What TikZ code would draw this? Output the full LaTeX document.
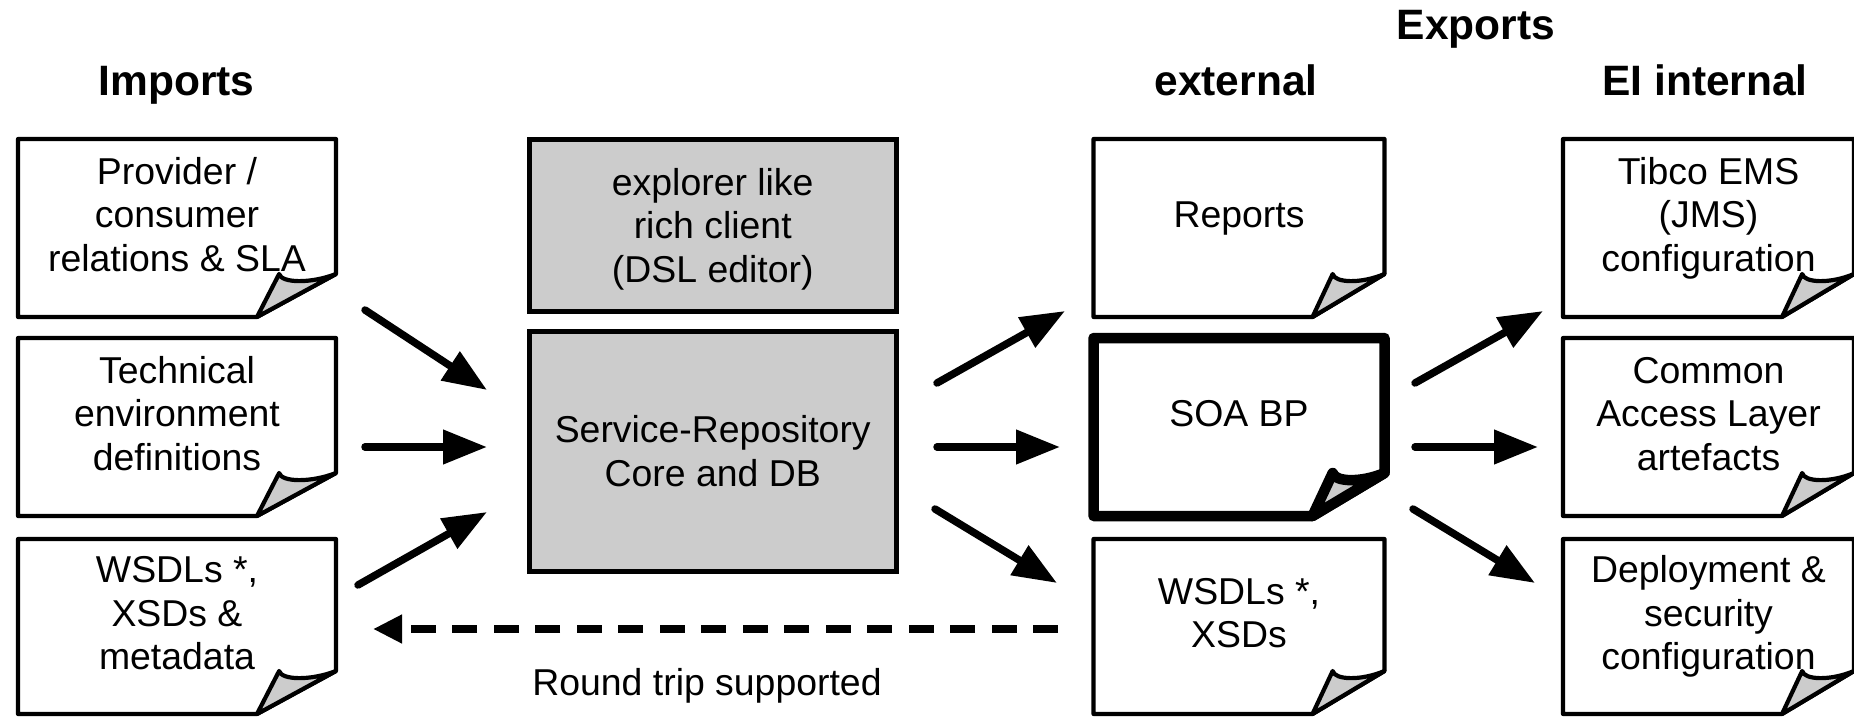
\documentclass[tikz,border=0pt]{standalone}
\usepackage{fontspec}
\setmainfont{Liberation Sans}
\usetikzlibrary{arrows.meta,calc}

\definecolor{panelgray}{gray}{0.8}
\definecolor{foldgray}{gray}{0.8}

% outline of a document page with a curled lower right corner
% #1 node name, #2 fold width, #3 line width
\newcommand{\docoutline}[3]{%
  \draw[line width=#3, line join=round]
    (#1.north west) -- (#1.north east) -- ([yshift=43pt]#1.south east)
    -- ([xshift=-#2]#1.south east) -- (#1.south west) -- cycle;
  \draw[line width=#3, line join=round, fill=foldgray]
    ([xshift=-#2]#1.south east)
    -- ([xshift={-0.72*#2}, yshift=43pt]#1.south east)
    .. controls ([xshift={-0.69*#2}, yshift=34pt]#1.south east)
            and ([xshift={-0.33*#2}, yshift=33pt]#1.south east)
    .. ([yshift=43pt]#1.south east) -- cycle;
}

\tikzset{
  frame/.style={rectangle, draw=none, inner sep=0pt, outer sep=0pt},
  panel/.style={rectangle, draw, fill=panelgray, line width=5pt, inner sep=0pt, outer sep=0pt},
  bodytext/.style={align=center, inner sep=0pt, font=\fontsize{37.4}{43.5}\selectfont},
  heading/.style={anchor=base, inner sep=0pt, font=\bfseries\fontsize{42.5}{50}\selectfont},
  bigarrow/.style={line width=7.5pt, line cap=round, -{Triangle[length=44pt, width=33pt]}},
  backarrow/.style={line width=7.5pt, dash pattern=on 25pt off 16.5pt, -{Triangle[length=29pt, width=27pt]}},
  doctext/.style={bodytext, yshift=9.2pt},
  paneltext/.style={bodytext, yshift=-4.8pt},
}

\begin{document}
\begin{tikzpicture}[x=1pt, y=-1pt]
\useasboundingbox (0,0) rectangle (1854,717);

% headings
\node[heading] (himp) at (176.5,95) {Imports};
\node[heading] (hexp) at (1476,40) {Exports};
\node[heading] (hext) at (1236,95) {external};
\node[heading] (hint) at (1705,95) {EI internal};

% import documents
\node[frame, minimum width=318pt, minimum height=178pt] (imp1) at (177,228) {};
\node[frame, minimum width=318pt, minimum height=178pt] (imp2) at (177,427) {};
\node[frame, minimum width=318pt, minimum height=175pt] (imp3) at (177,626.5) {};
\docoutline{imp1}{79pt}{4.2pt}
\docoutline{imp2}{79pt}{4.2pt}
\docoutline{imp3}{79pt}{4.2pt}
\node[doctext] (imp1t) at (imp1.center) {\strut Provider /\\consumer\\relations \& SLA\strut};
\node[doctext] (imp2t) at (imp2.center) {\strut Technical\\environment\\definitions\strut};
\node[doctext] (imp3t) at (imp3.center) {\strut WSDLs *,\\XSDs \&\\metadata\strut};

% repository panels
\node[panel, minimum width=366.5pt, minimum height=172pt] (gui) at (712.75,225) {};
\node[panel, minimum width=366.5pt, minimum height=240pt] (core) at (712.75,451) {};
\node[paneltext] (guit) at (gui.center) {\strut explorer like\\rich client\\(DSL editor)\strut};
\node[paneltext] (coret) at (core.center) {\strut Service-Repository\\Core and DB\strut};

% external exports
\node[frame, minimum width=291pt, minimum height=178pt] (ext1) at (1239,228) {};
\node[frame, minimum width=291pt, minimum height=178pt] (ext2) at (1239,427) {};
\node[frame, minimum width=291pt, minimum height=175pt] (ext3) at (1239,626.5) {};
\docoutline{ext1}{72pt}{4.2pt}
\docoutline{ext2}{72pt}{10.5pt}
\docoutline{ext3}{72pt}{4.2pt}
\node[doctext] (ext1t) at (ext1.center) {\strut Reports};
\node[doctext] (ext2t) at (ext2.center) {\strut SOA BP};
\node[doctext] (ext3t) at (ext3.center) {\strut WSDLs *,\\XSDs\strut};

% internal exports
\node[frame, minimum width=291pt, minimum height=178pt] (int1) at (1708.5,228) {};
\node[frame, minimum width=291pt, minimum height=178pt] (int2) at (1708.5,427) {};
\node[frame, minimum width=291pt, minimum height=175pt] (int3) at (1708.5,626.5) {};
\docoutline{int1}{72pt}{4.2pt}
\docoutline{int2}{72pt}{4.2pt}
\docoutline{int3}{72pt}{4.2pt}
\node[doctext] (int1t) at (int1.center) {\strut Tibco EMS\\(JMS)\\configuration\strut};
\node[doctext] (int2t) at (int2.center) {\strut Common\\Access Layer\\artefacts\strut};
\node[doctext] (int3t) at (int3.center) {\strut Deployment \&\\security\\configuration\strut};

% arrow end points
\coordinate (l1s) at (365,310);  \coordinate (l1e) at (487,390);
\coordinate (l2s) at (365,447);  \coordinate (l2e) at (487,447);
\coordinate (l3s) at (358,585);  \coordinate (l3e) at (487,512);
\coordinate (m1s) at (937,383);  \coordinate (m1e) at (1065,311);
\coordinate (m2s) at (937,447);  \coordinate (m2e) at (1060,447);
\coordinate (m3s) at (935,509);  \coordinate (m3e) at (1057,583);
\coordinate (r1s) at (1415,383); \coordinate (r1e) at (1543,311);
\coordinate (r2s) at (1415,447); \coordinate (r2e) at (1538,447);
\coordinate (r3s) at (1413,509); \coordinate (r3e) at (1535,583);

\draw[bigarrow] (l1s) -- (l1e);
\draw[bigarrow] (l2s) -- (l2e);
\draw[bigarrow] (l3s) -- (l3e);
\draw[bigarrow] (m1s) -- (m1e);
\draw[bigarrow] (m2s) -- (m2e);
\draw[bigarrow] (m3s) -- (m3e);
\draw[bigarrow] (r1s) -- (r1e);
\draw[bigarrow] (r2s) -- (r2e);
\draw[bigarrow] (r3s) -- (r3e);

% round trip back to the imports
\draw[backarrow, shorten <=35.5pt, shorten >=37pt]
  ([yshift=-2.5pt]ext3.west) -- ([yshift=-2.5pt]imp3.east);
\node[anchor=base, inner sep=0pt, font=\fontsize{37.4}{43.5}\selectfont] (rtrip) at (707,695) {Round trip supported};
\end{tikzpicture}
\end{document}
